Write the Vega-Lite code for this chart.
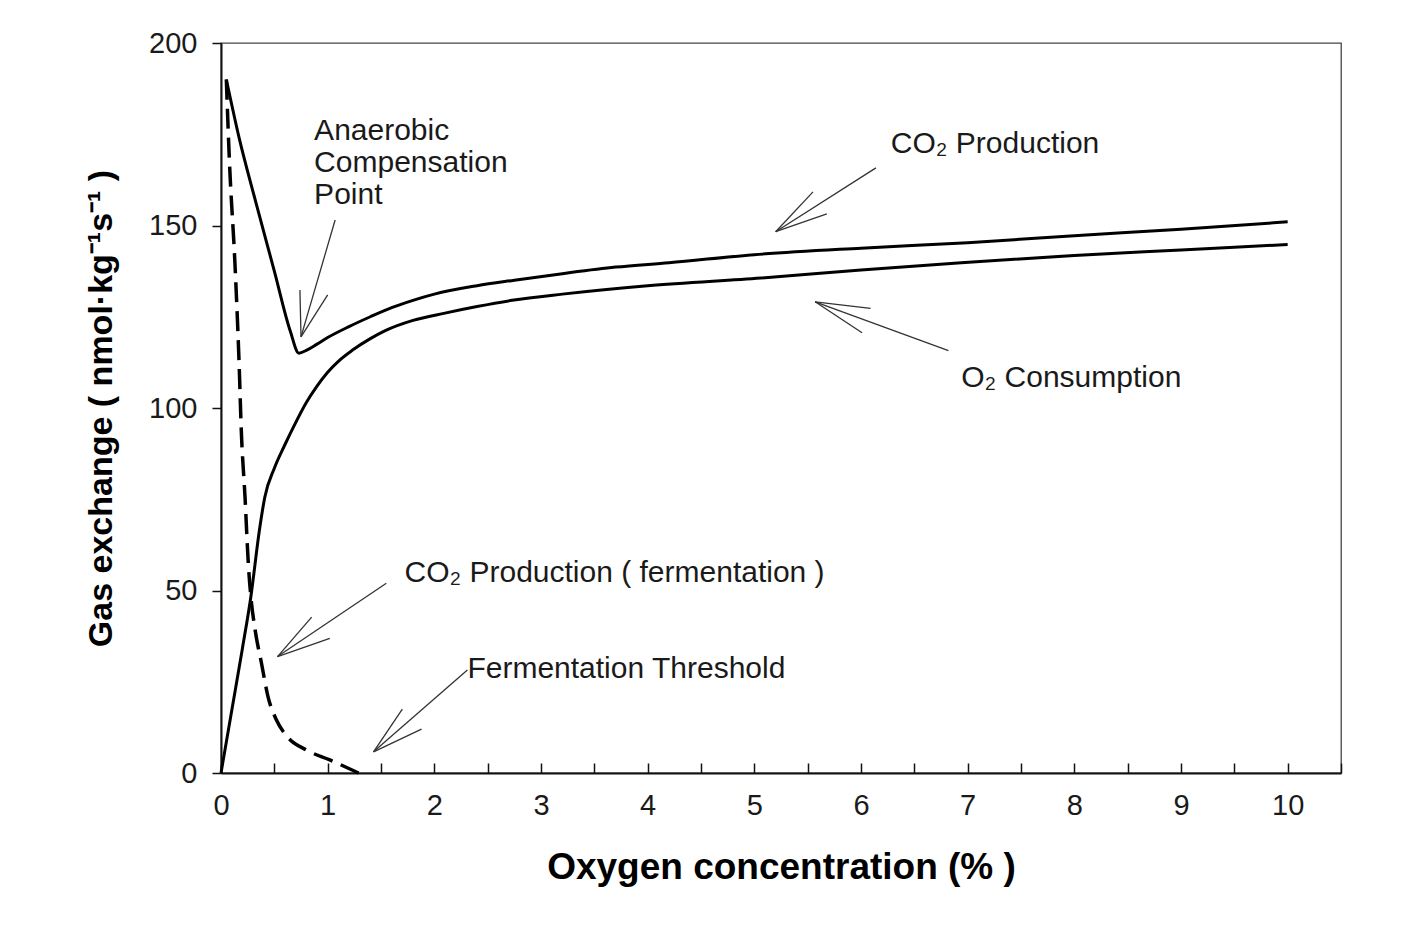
{
  "$schema": "https://vega.github.io/schema/vega-lite/v6.json",
  "autosize": {"type": "none"},
  "padding": {"left": 221, "top": 43, "right": 63, "bottom": 152},
  "width": 1120,
  "height": 730,
  "background": "white",
  "config": {
    "view": {"stroke": "#444", "strokeWidth": 1.3},
    "font": "Liberation Sans",
    "axis": {
      "grid": false,
      "domainColor": "#111",
      "domainWidth": 2,
      "tickColor": "#111",
      "tickWidth": 1.5,
      "labelFont": "Liberation Sans",
      "labelFontSize": 29,
      "labelColor": "#1a1a1a",
      "titleFont": "Liberation Sans",
      "titleFontWeight": "bold",
      "titleColor": "#000"
    }
  },
  "datasets": {
    "curves": [
      {"series": "CO2", "x": 0.05, "y": 190},
      {"series": "CO2", "x": 0.17, "y": 174},
      {"series": "CO2", "x": 0.33, "y": 156},
      {"series": "CO2", "x": 0.5, "y": 137.5},
      {"series": "CO2", "x": 0.65, "y": 121},
      {"series": "CO2", "x": 0.73, "y": 115},
      {"series": "CO2", "x": 0.8, "y": 115.8},
      {"series": "CO2", "x": 0.9, "y": 117.5},
      {"series": "CO2", "x": 1.0, "y": 119.3},
      {"series": "CO2", "x": 1.2, "y": 122.3},
      {"series": "CO2", "x": 1.4, "y": 125},
      {"series": "CO2", "x": 1.6, "y": 127.5},
      {"series": "CO2", "x": 1.8, "y": 129.5},
      {"series": "CO2", "x": 2.0, "y": 131.2},
      {"series": "CO2", "x": 2.4, "y": 133.5},
      {"series": "CO2", "x": 2.75, "y": 135},
      {"series": "CO2", "x": 3.2, "y": 136.8},
      {"series": "CO2", "x": 3.7, "y": 138.6},
      {"series": "CO2", "x": 4.2, "y": 139.8},
      {"series": "CO2", "x": 5.0, "y": 142},
      {"series": "CO2", "x": 6.0, "y": 143.8},
      {"series": "CO2", "x": 7.0, "y": 145.3},
      {"series": "CO2", "x": 8.0, "y": 147.2},
      {"series": "CO2", "x": 9.0, "y": 149},
      {"series": "CO2", "x": 10.0, "y": 151},
      {"series": "O2", "x": 0, "y": 0},
      {"series": "O2", "x": 0.1, "y": 17},
      {"series": "O2", "x": 0.2, "y": 34},
      {"series": "O2", "x": 0.28, "y": 48.3},
      {"series": "O2", "x": 0.36, "y": 66.5},
      {"series": "O2", "x": 0.41, "y": 75.5},
      {"series": "O2", "x": 0.5, "y": 83.5},
      {"series": "O2", "x": 0.6, "y": 90},
      {"series": "O2", "x": 0.7, "y": 96},
      {"series": "O2", "x": 0.8, "y": 101.5},
      {"series": "O2", "x": 0.9, "y": 106},
      {"series": "O2", "x": 1.0, "y": 109.8},
      {"series": "O2", "x": 1.1, "y": 112.8},
      {"series": "O2", "x": 1.23, "y": 115.8},
      {"series": "O2", "x": 1.4, "y": 119},
      {"series": "O2", "x": 1.54, "y": 121.2},
      {"series": "O2", "x": 1.8, "y": 124},
      {"series": "O2", "x": 2.1, "y": 126},
      {"series": "O2", "x": 2.4, "y": 127.8},
      {"series": "O2", "x": 2.73, "y": 129.5},
      {"series": "O2", "x": 3.2, "y": 131.2},
      {"series": "O2", "x": 4.0, "y": 133.5},
      {"series": "O2", "x": 5.06, "y": 135.6},
      {"series": "O2", "x": 6.0, "y": 137.8},
      {"series": "O2", "x": 6.94, "y": 139.8},
      {"series": "O2", "x": 8.0, "y": 141.8},
      {"series": "O2", "x": 9.0, "y": 143.3},
      {"series": "O2", "x": 10.0, "y": 144.8}
    ],
    "ferm": [
      {"x": 0.05, "y": 190},
      {"x": 0.08, "y": 167},
      {"x": 0.13, "y": 140},
      {"x": 0.17, "y": 112},
      {"x": 0.19, "y": 94},
      {"x": 0.225, "y": 75.7},
      {"x": 0.256, "y": 57.4},
      {"x": 0.28, "y": 48.3},
      {"x": 0.32, "y": 39.2},
      {"x": 0.38, "y": 30},
      {"x": 0.44, "y": 21},
      {"x": 0.52, "y": 14.5},
      {"x": 0.62, "y": 10},
      {"x": 0.8, "y": 6.3},
      {"x": 1.02, "y": 3.6},
      {"x": 1.29, "y": 0}
    ],
    "arrows": [
      {"x": 1.07, "y": 151.5, "x2": 0.75, "y2": 119.5},
      {"x": 0.75, "y": 119.5, "x2": 0.74, "y2": 132.3},
      {"x": 0.75, "y": 119.5, "x2": 1.0, "y2": 131},
      {"x": 6.14, "y": 165.8, "x2": 5.2, "y2": 148.3},
      {"x": 5.2, "y": 148.3, "x2": 5.55, "y2": 159.2},
      {"x": 5.2, "y": 148.3, "x2": 5.68, "y2": 153.2},
      {"x": 6.82, "y": 115.7, "x2": 5.57, "y2": 129.1},
      {"x": 5.57, "y": 129.1, "x2": 6.09, "y2": 127.3},
      {"x": 5.57, "y": 129.1, "x2": 6.01, "y2": 120.6},
      {"x": 1.55, "y": 52, "x2": 0.53, "y2": 31.9},
      {"x": 0.53, "y": 31.9, "x2": 0.85, "y2": 42.7},
      {"x": 0.53, "y": 31.9, "x2": 1.02, "y2": 36.9},
      {"x": 2.31, "y": 28.2, "x2": 1.43, "y2": 5.8},
      {"x": 1.43, "y": 5.8, "x2": 1.7, "y2": 17.5},
      {"x": 1.43, "y": 5.8, "x2": 1.88, "y2": 12}
    ],
    "labels": [
      {"x": 0.873, "y": 173.4, "text": "Anaerobic"},
      {"x": 0.873, "y": 164.7, "text": "Compensation"},
      {"x": 0.873, "y": 156.0, "text": "Point"},
      {"x": 6.28, "y": 169.8, "text": "CO₂ Production"},
      {"x": 6.94, "y": 105.8, "text": "O₂ Consumption"},
      {"x": 1.72, "y": 52.4, "text": "CO₂ Production ( fermentation )"},
      {"x": 2.31, "y": 25.9, "text": "Fermentation Threshold"}
    ]
  },
  "layer": [
    {
      "data": {"name": "curves"},
      "mark": {"type": "line", "color": "#000", "strokeWidth": 3, "interpolate": "monotone"},
      "encoding": {
        "x": {
          "field": "x", "type": "quantitative",
          "scale": {"domain": [0, 10.5], "nice": false, "zero": false},
          "axis": {
            "title": "Oxygen concentration (% )",
            "titleFontSize": 37,
            "values": [0, 0.5, 1, 1.5, 2, 2.5, 3, 3.5, 4, 4.5, 5, 5.5, 6, 6.5, 7, 7.5, 8, 8.5, 9, 9.5, 10, 10.5],
            "labelExpr": "datum.value % 1 === 0 ? format(datum.value, 'd') : ''",
            "tickSize": -10,
            "labelPadding": 28,
            "labelFlush": false,
            "labelOverlap": false,
            "titlePadding": 29
          }
        },
        "y": {
          "field": "y", "type": "quantitative",
          "scale": {"domain": [0, 200], "nice": false},
          "axis": {
            "title": "Gas exchange ( nmol·kg⁻¹s⁻¹ )",
            "titleFontSize": 34,
            "values": [0, 50, 100, 150, 200],
            "tickSize": 9,
            "labelPadding": 15,
            "titlePadding": 30
          }
        },
        "detail": {"field": "series"}
      }
    },
    {
      "data": {"name": "ferm"},
      "mark": {"type": "line", "color": "#000", "strokeWidth": 3.5, "strokeDash": [20, 9], "interpolate": "monotone"},
      "encoding": {
        "x": {"field": "x", "type": "quantitative"},
        "y": {"field": "y", "type": "quantitative"}
      }
    },
    {
      "data": {"name": "arrows"},
      "mark": {"type": "rule", "color": "#333", "strokeWidth": 1.3},
      "encoding": {
        "x": {"field": "x", "type": "quantitative"},
        "y": {"field": "y", "type": "quantitative"},
        "x2": {"field": "x2"},
        "y2": {"field": "y2"}
      }
    },
    {
      "data": {"name": "labels"},
      "mark": {"type": "text", "align": "left", "baseline": "alphabetic", "fontSize": 30, "font": "Liberation Sans", "color": "#1a1a1a"},
      "encoding": {
        "x": {"field": "x", "type": "quantitative"},
        "y": {"field": "y", "type": "quantitative"},
        "text": {"field": "text"}
      }
    }
  ]
}
